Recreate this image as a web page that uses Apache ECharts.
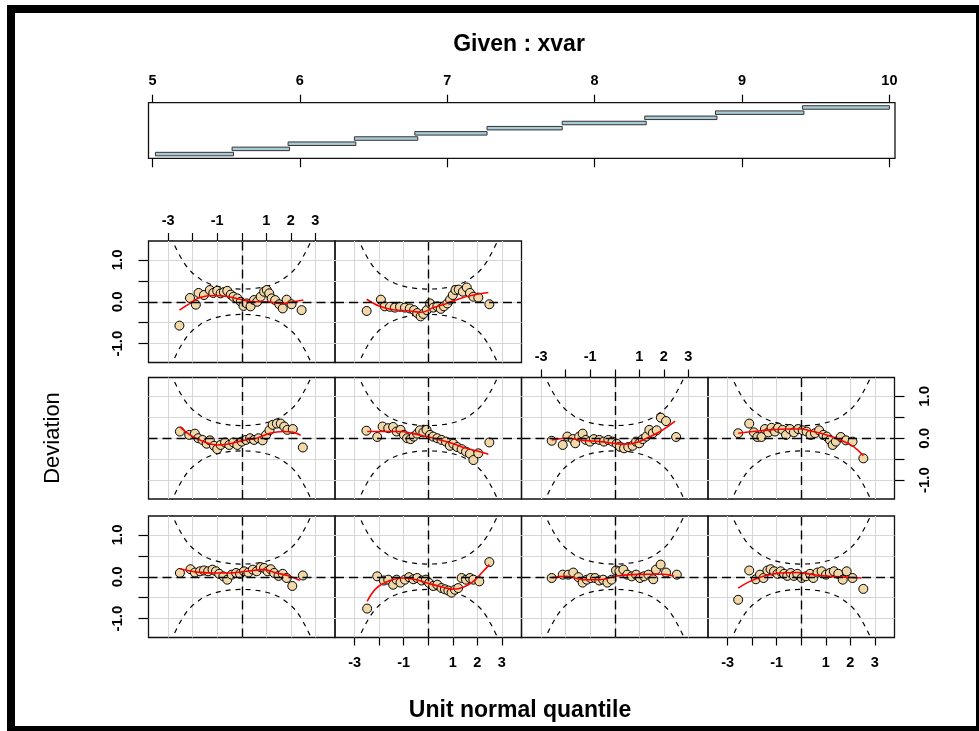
<!DOCTYPE html>
<html><head><meta charset="utf-8">
<script src="https://cdn.jsdelivr.net/npm/echarts@6/dist/echarts.min.js"></script>
<style>html,body{margin:0;padding:0;background:#fff}#c{width:979px;height:731px}</style>
</head><body><div id="c"></div>
<script>
// ---------------- data ----------------
const givenLo = [5.02, 5.54, 5.92, 6.37, 6.78, 7.27, 7.78, 8.34, 8.82, 9.41];
const givenHi = [5.55, 5.93, 6.38, 6.80, 7.27, 7.78, 8.35, 8.83, 9.42, 10.0];
const givenTicks = [5, 6, 7, 8, 9, 10];
const qTicks = [-3, -2, -1, 0, 1, 2, 3];
const qLabels = [-3, -1, 1, 2, 3];
const devTicks = [-1, -0.5, 0, 0.5, 1];
const devLabelVals = [-1, 0, 1];
const devLabelText = ['-1.0', '0.0', '1.0'];

const ciX     = [-2.9, -2.8, -2.6, -2.4, -2.2, -2.0, -1.6, -1.2, -0.8, -0.4, 0, 0.4, 0.8, 1.2, 1.6, 2.0, 2.2, 2.4, 2.6, 2.8, 2.9];
const ciUpper = [1.56, 1.42, 1.18, 0.97, 0.80, 0.68, 0.50, 0.40, 0.34, 0.31, 0.30, 0.31, 0.34, 0.40, 0.50, 0.68, 0.80, 0.97, 1.18, 1.42, 1.56];
const ciLower = [-1.56, -1.42, -1.18, -0.97, -0.80, -0.68, -0.50, -0.40, -0.34, -0.31, -0.30, -0.31, -0.34, -0.40, -0.50, -0.68, -0.80, -0.97, -1.18, -1.42, -1.56];

// panel 1 (bottom row, left)
const pts1 = [[-2.52,0.09],[-2.09,0.18],[-1.91,0.10],[-1.70,0.13],[-1.54,0.15],[-1.37,0.13],[-1.19,0.17],[-1.05,0.13],[-0.92,0.07],[-0.75,0.01],[-0.59,-0.07],[-0.41,0.05],[-0.23,0.09],[-0.07,0.07],[0.09,0.13],[0.27,0.10],[0.45,0.17],[0.61,0.13],[0.77,0.23],[0.91,0.21],[1.05,0.13],[1.18,0.18],[1.32,0.09],[1.50,0.02],[1.67,0.07],[1.83,-0.03],[2.06,-0.22],[2.49,0.03]];
const fit1 = [[-2.52,0.19],[-1.84,0.11],[-1.16,0.09],[-0.48,0.09],[0.2,0.13],[0.88,0.17],[1.42,0.09],[1.97,0.01],[2.37,-0.09]];
// panel 2
const pts2 = [[-2.49,-0.76],[-2.08,0.01],[-1.81,-0.09],[-1.63,-0.07],[-1.43,-0.19],[-1.29,-0.07],[-1.13,-0.14],[-0.95,-0.07],[-0.78,-0.01],[-0.61,-0.06],[-0.45,-0.03],[-0.27,-0.09],[-0.10,-0.07],[0.04,-0.15],[0.20,-0.22],[0.37,-0.19],[0.54,-0.27],[0.68,-0.30],[0.82,-0.33],[0.95,-0.38],[1.09,-0.31],[1.22,-0.27],[1.36,-0.03],[1.54,-0.07],[1.70,-0.03],[1.84,-0.07],[2.08,-0.11],[2.49,0.35]];
const fit2 = [[-2.49,-0.59],[-2.11,-0.27],[-1.56,-0.09],[-1.02,-0.03],[-0.48,-0.07],[0.07,-0.17],[0.61,-0.25],[1.02,-0.30],[1.43,-0.25],[1.84,-0.11],[2.24,0.13],[2.49,0.29]];
// panel 3
const pts3 = [[-2.57,-0.03],[-2.12,0.05],[-1.89,0.05],[-1.69,0.10],[-1.48,-0.01],[-1.31,-0.14],[-1.14,-0.07],[-0.98,-0.03],[-0.80,-0.03],[-0.63,-0.09],[-0.47,-0.07],[-0.30,-0.14],[-0.13,-0.07],[0.05,0.15],[0.19,0.13],[0.35,0.17],[0.51,0.05],[0.69,0.01],[0.87,0.05],[1.03,-0.03],[1.19,0.01],[1.37,0.05],[1.57,-0.06],[1.68,0.17],[1.87,0.29],[2.09,0.10],[2.53,0.05]];
const fit3 = [[-2.57,-0.02],[-1.96,0.01],[-1.28,-0.07],[-0.60,-0.07],[0.01,0.01],[0.62,0.05],[1.30,0.06],[1.98,0.06],[2.42,0.01]];
// panel 4
const pts4 = [[-2.57,-0.55],[-2.12,0.15],[-1.85,-0.06],[-1.68,0.05],[-1.54,-0.03],[-1.38,0.15],[-1.25,0.18],[-1.11,0.13],[-0.97,0.07],[-0.84,0.13],[-0.70,0.07],[-0.57,0.02],[-0.43,0.09],[-0.30,0.02],[-0.16,0.07],[0.02,-0.03],[0.19,0.01],[0.36,0.07],[0.49,-0.03],[0.66,0.10],[0.83,0.13],[1.01,0.05],[1.17,0.09],[1.33,0.13],[1.51,0.07],[1.69,-0.07],[1.85,0.13],[2.09,-0.03],[2.53,-0.29]];
const fit4 = [[-2.57,-0.27],[-2.09,-0.11],[-1.54,0.01],[-0.86,0.09],[-0.19,0.10],[0.49,0.05],[1.17,0.01],[1.85,-0.01],[2.46,-0.03]];
// panel 5 (middle row, left)
const pts5 = [[-2.52,0.16],[-2.14,0.08],[-1.91,0.11],[-1.77,0.0],[-1.60,-0.04],[-1.43,-0.13],[-1.30,-0.05],[-1.13,-0.18],[-1.0,-0.26],[-0.86,-0.16],[-0.68,-0.10],[-0.51,-0.16],[-0.34,-0.10],[-0.18,-0.16],[0.0,-0.08],[0.17,-0.04],[0.34,0.0],[0.5,-0.04],[0.68,0.0],[0.85,-0.05],[0.99,0.08],[1.13,0.19],[1.26,0.32],[1.43,0.35],[1.59,0.35],[1.73,0.28],[1.86,0.20],[2.08,0.22],[2.49,-0.22]];
const fit5 = [[-2.52,0.27],[-2.11,0.08],[-1.57,-0.08],[-1.02,-0.16],[-0.48,-0.13],[0.06,-0.05],[0.61,0.0],[1.15,0.12],[1.70,0.16],[2.11,0.14],[2.40,0.07]];
// panel 6
const pts6 = [[-2.52,0.18],[-2.08,0.03],[-1.86,0.28],[-1.63,0.24],[-1.43,0.27],[-1.29,0.16],[-1.13,0.20],[-0.99,0.08],[-0.86,0.0],[-0.72,-0.02],[-0.59,0.04],[-0.45,0.11],[-0.34,0.19],[-0.20,0.14],[-0.07,0.20],[0.07,0.08],[0.20,0.04],[0.37,0.0],[0.54,-0.04],[0.72,-0.08],[0.88,-0.18],[1.02,-0.13],[1.18,-0.21],[1.36,-0.26],[1.54,-0.32],[1.70,-0.37],[1.84,-0.52],[2.04,-0.36],[2.49,-0.10]];
const fit6 = [[-2.49,0.16],[-1.84,0.16],[-1.16,0.16],[-0.61,0.11],[-0.07,0.04],[0.48,-0.04],[1.02,-0.13],[1.56,-0.24],[2.11,-0.32],[2.45,-0.38]];
// panel 7
const pts7 = [[-2.57,-0.06],[-2.12,-0.16],[-1.93,0.04],[-1.71,-0.02],[-1.61,-0.12],[-1.45,0.04],[-1.31,0.11],[-1.18,-0.04],[-1.01,-0.08],[-0.85,-0.02],[-0.63,-0.04],[-0.44,-0.08],[-0.26,-0.04],[-0.09,-0.08],[0.08,-0.13],[0.21,-0.20],[0.38,-0.24],[0.55,-0.21],[0.73,-0.18],[0.87,-0.08],[1.0,-0.12],[1.14,-0.02],[1.28,0.04],[1.41,0.20],[1.55,0.12],[1.71,0.19],[1.88,0.49],[2.09,0.41],[2.50,0.03]];
const fit7 = [[-2.57,-0.04],[-1.96,0.0],[-1.28,-0.05],[-0.60,-0.08],[-0.06,-0.12],[0.35,-0.14],[0.76,-0.12],[1.30,0.0],[1.85,0.16],[2.46,0.41]];
// panel 8
const pts8 = [[-2.57,0.12],[-2.12,0.35],[-1.93,0.14],[-1.79,0.03],[-1.62,0.03],[-1.48,0.22],[-1.34,0.14],[-1.21,0.25],[-1.07,0.16],[-0.94,0.25],[-0.76,0.20],[-0.62,0.08],[-0.46,0.22],[-0.30,0.14],[-0.12,0.22],[0.06,0.19],[0.22,0.16],[0.38,0.08],[0.56,0.12],[0.73,0.19],[0.90,0.08],[1.04,0.04],[1.17,-0.04],[1.28,-0.16],[1.41,-0.08],[1.61,0.03],[1.82,-0.05],[2.09,-0.08],[2.53,-0.48]];
const fit8 = [[-2.57,0.12],[-1.96,0.16],[-1.28,0.20],[-0.60,0.22],[-0.05,0.22],[0.49,0.16],[1.04,0.08],[1.58,-0.04],[2.13,-0.20],[2.53,-0.42]];
// panel 9 (top row, left)
const pts9 = [[-2.54,-0.57],[-2.11,0.09],[-1.87,-0.07],[-1.76,0.21],[-1.54,0.16],[-1.30,0.28],[-1.16,0.21],[-1.0,0.26],[-0.86,0.20],[-0.73,0.23],[-0.59,0.26],[-0.45,0.17],[-0.34,0.12],[-0.18,0.08],[-0.04,0.0],[0.07,-0.10],[0.2,-0.04],[0.36,-0.11],[0.5,0.04],[0.63,0.0],[0.77,0.12],[0.91,0.24],[1.02,0.28],[1.12,0.20],[1.22,0.08],[1.36,0.04],[1.53,-0.06],[1.67,-0.16],[1.83,0.05],[2.03,-0.06],[2.44,-0.20]];
const fit9 = [[-2.54,-0.20],[-2.11,-0.04],[-1.7,0.10],[-1.16,0.15],[-0.62,0.13],[-0.07,0.06],[0.47,0.0],[1.02,0.0],[1.56,-0.04],[2.1,0.0],[2.51,0.04]];
// panel 10
const pts10 = [[-2.51,-0.22],[-1.93,0.05],[-1.77,-0.11],[-1.56,-0.12],[-1.36,-0.14],[-1.15,-0.12],[-0.95,-0.14],[-0.75,-0.16],[-0.58,-0.20],[-0.45,-0.27],[-0.31,-0.35],[-0.2,-0.29],[-0.06,-0.20],[0.07,-0.04],[0.21,-0.14],[0.37,-0.11],[0.51,-0.17],[0.64,-0.11],[0.78,-0.04],[0.89,0.05],[1.0,0.16],[1.11,0.28],[1.24,0.29],[1.41,0.24],[1.57,0.34],[1.70,0.21],[1.84,0.12],[2.04,0.10],[2.49,-0.06]];
const fit10 = [[-2.51,0.06],[-1.97,-0.11],[-1.43,-0.19],[-0.75,-0.22],[-0.27,-0.25],[0.21,-0.14],[0.75,-0.04],[1.3,0.08],[1.84,0.16],[2.45,0.22]];

// ---------------- layout ----------------
const FONT = "'Liberation Sans', Arial, sans-serif";
const colLeft = [148.5, 335, 521.5, 708], colW = 186.5;
const rowTop = [241, 377.5, 516], rowH = 121.5;
const allPts = [pts1, pts2, pts3, pts4, pts5, pts6, pts7, pts8, pts9, pts10];
const allFits = [fit1, fit2, fit3, fit4, fit5, fit6, fit7, fit8, fit9, fit10];
function cell(i) {
  if (i < 4) return { r: 2, c: i };
  if (i < 8) return { r: 1, c: i - 4 };
  return { r: 0, c: i - 8 };
}
const xPos = { 8: 'top', 6: 'top', 1: 'bottom', 3: 'bottom' };
const yPos = { 8: 'left', 0: 'left', 7: 'right' };

const grid = [], xAxis = [], yAxis = [], series = [];
for (let i = 0; i < 10; i++) {
  const { r, c } = cell(i);
  grid.push({ left: colLeft[c], top: rowTop[r], width: colW, height: rowH,
    show: true, borderColor: '#111', borderWidth: 1.3, backgroundColor: 'transparent' });
  const xp = xPos[i];
  xAxis.push({ type: 'value', gridIndex: i, min: -3.8, max: 3.8, position: xp || 'bottom',
    axisLine: { show: false, onZero: false },
    axisTick: { show: !!xp, customValues: qTicks, length: 8, lineStyle: { color: '#000', width: 1.2 } },
    axisLabel: { show: !!xp, customValues: qLabels, margin: xp === 'top' ? 13 : 18,
      fontSize: 14.5, fontWeight: 'bold', color: '#000', fontFamily: FONT },
    splitLine: { show: true, lineStyle: { color: '#d6d6d6', width: 1 } } });
  const yp = yPos[i];
  yAxis.push({ type: 'value', gridIndex: i, min: -1.45, max: 1.45, position: yp || 'left',
    axisLine: { show: false, onZero: false },
    axisTick: { show: !!yp, customValues: devTicks, length: 10, lineStyle: { color: '#000', width: 1.2 } },
    axisLabel: { show: !!yp, customValues: devLabelVals, rotate: 90, margin: 23,
      formatter: v => devLabelText[devLabelVals.indexOf(v)],
      fontSize: 15, fontWeight: 'bold', color: '#000', fontFamily: FONT },
    splitLine: { show: true, lineStyle: { color: '#d6d6d6', width: 1 } } });

  series.push({ type: 'line', xAxisIndex: i, yAxisIndex: i, silent: true, z: 2,
    data: ciX.map((x, k) => [x, ciUpper[k]]), symbol: 'none', clip: true,
    lineStyle: { color: '#000', width: 1.2, type: [5, 5] },
    markLine: { silent: true, symbol: ['none', 'none'], label: { show: false },
      lineStyle: { color: '#000', width: 1.4, type: [9, 5] },
      data: [{ xAxis: 0 }, { yAxis: 0 }] } });
  series.push({ type: 'line', xAxisIndex: i, yAxisIndex: i, silent: true, z: 2,
    data: ciX.map((x, k) => [x, ciLower[k]]), symbol: 'none', clip: true,
    lineStyle: { color: '#000', width: 1.2, type: [5, 5] } });
  series.push({ type: 'scatter', xAxisIndex: i, yAxisIndex: i, silent: true, z: 3,
    data: allPts[i], symbol: 'circle', symbolSize: 9,
    itemStyle: { color: '#f0d8a8', borderColor: '#000', borderWidth: 1, opacity: 1 } });
  series.push({ type: 'line', xAxisIndex: i, yAxisIndex: i, silent: true, z: 4,
    data: allFits[i], symbol: 'none', smooth: 0.4, clip: true,
    lineStyle: { color: '#ff0000', width: 1.6 } });
}

// given panel
grid.push({ left: 148.5, top: 102.7, width: 746.5, height: 55.6, show: true,
  borderColor: '#111', borderWidth: 1.3, backgroundColor: 'transparent' });
const gAxisBase = { type: 'value', gridIndex: 10, min: 4.973, max: 10.038,
  axisLine: { show: false, onZero: false }, splitLine: { show: false } };
xAxis.push(Object.assign({}, gAxisBase, { position: 'top',
  axisTick: { show: true, customValues: givenTicks, length: 8, lineStyle: { color: '#000', width: 1.2 } },
  axisLabel: { show: true, customValues: givenTicks, margin: 14, fontSize: 14.5, fontWeight: 'bold', color: '#000', fontFamily: FONT } }));
xAxis.push(Object.assign({}, gAxisBase, { position: 'bottom',
  axisTick: { show: true, customValues: givenTicks, length: 9, lineStyle: { color: '#000', width: 1.2 } },
  axisLabel: { show: false } }));
yAxis.push({ type: 'value', gridIndex: 10, min: 0.23, max: 10.97, show: false,
  axisLine: { onZero: false }, splitLine: { show: false } });
series.push({ type: 'custom', xAxisIndex: 10, yAxisIndex: 10, silent: true,
  data: givenLo.map((lo, k) => [lo, givenHi[k], k + 1]),
  renderItem: (params, api) => {
    const p1 = api.coord([api.value(0), api.value(2)]);
    const p2 = api.coord([api.value(1), api.value(2)]);
    return { type: 'rect', shape: { x: p1[0], y: p1[1] - 2, width: p2[0] - p1[0], height: 3.5 },
      style: { fill: '#a9cbd6', stroke: '#333', lineWidth: 1 } };
  } });

const chart = echarts.init(document.getElementById('c'), null, { renderer: 'canvas' });
chart.setOption({
  animation: false, backgroundColor: '#fff',
  grid, xAxis, yAxis, series,
  graphic: [
    { type: 'rect', shape: { x: 7, y: 5, width: 8, height: 726 }, style: { fill: '#000' }, silent: true },
    { type: 'rect', shape: { x: 7, y: 5, width: 972, height: 8 }, style: { fill: '#000' }, silent: true },
    { type: 'rect', shape: { x: 7, y: 726, width: 972, height: 5 }, style: { fill: '#000' }, silent: true },
    { type: 'rect', shape: { x: 976, y: 5, width: 3, height: 726 }, style: { fill: '#000' }, silent: true },
    { type: 'text', x: 519, y: 45, style: { text: 'Given : xvar', fontSize: 23, fontWeight: 'bold',
      fontFamily: FONT, fill: '#000', align: 'center', verticalAlign: 'middle' } },
    { type: 'text', x: 520, y: 711, style: { text: 'Unit normal quantile', fontSize: 23, fontWeight: 'bold',
      fontFamily: FONT, fill: '#000', align: 'center', verticalAlign: 'middle' } },
    { type: 'text', x: 53, y: 438, rotation: Math.PI / 2, style: { text: 'Deviation', fontSize: 22,
      fontFamily: FONT, fill: '#000', align: 'center', verticalAlign: 'middle' } }
  ]
});
</script>
</body></html>
